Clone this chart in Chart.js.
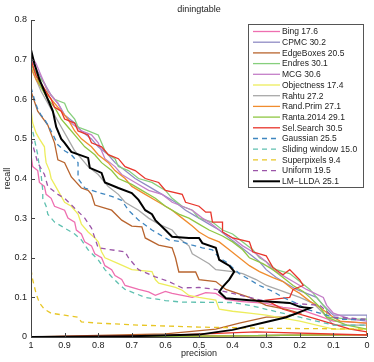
<!DOCTYPE html>
<html>
<head>
<meta charset="utf-8">
<script src="https://cdn.jsdelivr.net/npm/chart.js@4/dist/chart.umd.min.js"></script>
<style>
  html, body { margin: 0; padding: 0; background: #fff; }
  #wrap { width: 374px; height: 362px; }
</style>
</head>
<body>
<div id="wrap"><canvas id="pr"></canvas></div>
<script>
// [precision, recall] pairs
const bing = [[1,0.46],[0.995,0.43],[0.98,0.42],[0.975,0.39],[0.96,0.38],[0.955,0.36],[0.94,0.35],[0.93,0.33],[0.9,0.32],[0.89,0.3],[0.87,0.29],[0.865,0.27],[0.85,0.26],[0.84,0.24],[0.82,0.23],[0.81,0.21],[0.79,0.2],[0.78,0.18],[0.76,0.17],[0.75,0.155],[0.73,0.145],[0.72,0.13],[0.68,0.12],[0.65,0.114],[0.63,0.105],[0.6,0.115],[0.58,0.11],[0.52,0.1],[0.48,0.112],[0.45,0.11],[0.42,0.095],[0.38,0.09],[0.3,0.085],[0.25,0.075],[0.2,0.07],[0.15,0.055],[0.1,0.04],[0,0.035],[0,0.006],[0.5,0.002],[1,0]];
const cpmc = [[1,0.7],[0.98,0.67],[0.96,0.64],[0.94,0.61],[0.92,0.59],[0.9,0.56],[0.87,0.54],[0.85,0.52],[0.82,0.5],[0.8,0.48],[0.77,0.46],[0.75,0.44],[0.72,0.42],[0.69,0.4],[0.65,0.38],[0.61,0.36],[0.57,0.34],[0.54,0.32],[0.5,0.3],[0.47,0.285],[0.44,0.27],[0.41,0.25],[0.38,0.23],[0.35,0.21],[0.32,0.19],[0.3,0.17],[0.27,0.15],[0.24,0.135],[0.21,0.12],[0.18,0.11],[0.15,0.1],[0.13,0.08],[0.1,0.055],[0,0.055],[0,0.006],[0.5,0.002],[1,0]];
const edgeBoxes = [[1,0.62],[0.98,0.57],[0.95,0.535],[0.93,0.49],[0.92,0.447],[0.9,0.44],[0.88,0.404],[0.85,0.376],[0.83,0.37],[0.82,0.36],[0.81,0.333],[0.78,0.325],[0.76,0.32],[0.73,0.295],[0.7,0.28],[0.67,0.278],[0.66,0.25],[0.62,0.232],[0.58,0.225],[0.57,0.2],[0.56,0.164],[0.51,0.164],[0.5,0.145],[0.45,0.14],[0.42,0.12],[0.35,0.1],[0.3,0.08],[0.24,0.07],[0.2,0.06],[0.25,0.05],[0.3,0.05],[0.38,0.035],[0.45,0.02],[0.6,0.008],[1,0]];
const endres = [[1,0.69],[0.98,0.66],[0.96,0.64],[0.95,0.62],[0.93,0.6],[0.9,0.59],[0.89,0.57],[0.87,0.55],[0.86,0.53],[0.83,0.52],[0.8,0.51],[0.79,0.49],[0.78,0.47],[0.77,0.46],[0.75,0.45],[0.74,0.43],[0.71,0.42],[0.68,0.4],[0.64,0.39],[0.6,0.37],[0.58,0.35],[0.55,0.33],[0.52,0.32],[0.5,0.3],[0.46,0.29],[0.43,0.27],[0.4,0.26],[0.37,0.24],[0.34,0.22],[0.32,0.2],[0.3,0.19],[0.27,0.17],[0.23,0.16],[0.2,0.14],[0.17,0.12],[0.15,0.1],[0.12,0.07],[0.12,0.05],[0.05,0.045],[0,0.045],[0,0.006],[0.5,0.002],[1,0]];
const mcg = [[1,0.71],[0.985,0.69],[0.97,0.66],[0.955,0.63],[0.94,0.61],[0.92,0.59],[0.9,0.56],[0.88,0.54],[0.85,0.52],[0.82,0.51],[0.8,0.49],[0.79,0.47],[0.78,0.45],[0.75,0.43],[0.73,0.41],[0.69,0.39],[0.65,0.37],[0.61,0.36],[0.58,0.34],[0.55,0.33],[0.52,0.32],[0.49,0.3],[0.47,0.29],[0.44,0.27],[0.4,0.25],[0.37,0.23],[0.33,0.21],[0.3,0.19],[0.28,0.17],[0.25,0.155],[0.22,0.14],[0.18,0.12],[0.13,0.1],[0.12,0.08],[0.1,0.06],[0.05,0.045],[0,0.04],[0,0.006],[0.5,0.002],[1,0]];
const objectness = [[1,0.575],[0.995,0.54],[0.985,0.515],[0.975,0.5],[0.96,0.48],[0.958,0.46],[0.955,0.44],[0.945,0.42],[0.94,0.4],[0.92,0.37],[0.9,0.34],[0.88,0.33],[0.86,0.31],[0.85,0.285],[0.83,0.265],[0.81,0.25],[0.8,0.24],[0.79,0.215],[0.78,0.2],[0.74,0.185],[0.7,0.17],[0.64,0.165],[0.63,0.145],[0.62,0.136],[0.57,0.125],[0.55,0.118],[0.53,0.105],[0.5,0.1],[0.45,0.093],[0.44,0.07],[0.4,0.065],[0.35,0.06],[0.3,0.055],[0.2,0.04],[0.1,0.02],[0,0.02],[0,0.006],[0.5,0.002],[1,0]];
const rahtu = [[1,0.68],[0.985,0.65],[0.97,0.62],[0.95,0.59],[0.93,0.56],[0.91,0.53],[0.89,0.5],[0.87,0.47],[0.85,0.45],[0.83,0.43],[0.8,0.41],[0.78,0.39],[0.77,0.38],[0.74,0.36],[0.72,0.34],[0.68,0.32],[0.65,0.3],[0.62,0.285],[0.58,0.27],[0.56,0.25],[0.53,0.23],[0.52,0.21],[0.5,0.2],[0.47,0.185],[0.45,0.17],[0.4,0.165],[0.37,0.16],[0.33,0.145],[0.3,0.13],[0.25,0.115],[0.2,0.1],[0.16,0.085],[0.13,0.06],[0.1,0.03],[0,0.03],[0,0.006],[0.5,0.002],[1,0]];
const randPrim = [[1,0.68],[0.985,0.65],[0.97,0.63],[0.95,0.61],[0.93,0.59],[0.91,0.57],[0.89,0.55],[0.87,0.52],[0.85,0.5],[0.82,0.48],[0.8,0.46],[0.77,0.44],[0.75,0.42],[0.72,0.4],[0.7,0.38],[0.66,0.36],[0.62,0.34],[0.58,0.32],[0.55,0.3],[0.52,0.28],[0.5,0.265],[0.47,0.25],[0.44,0.24],[0.41,0.22],[0.38,0.2],[0.35,0.18],[0.32,0.165],[0.28,0.15],[0.25,0.14],[0.22,0.12],[0.2,0.11],[0.17,0.09],[0.15,0.08],[0.1,0.05],[0.08,0.04],[0,0.035],[0,0.006],[0.5,0.002],[1,0]];
const ranta = [[1,0.69],[0.985,0.66],[0.97,0.63],[0.95,0.6],[0.93,0.58],[0.91,0.55],[0.89,0.53],[0.86,0.5],[0.84,0.48],[0.81,0.46],[0.79,0.44],[0.76,0.42],[0.74,0.4],[0.7,0.385],[0.67,0.37],[0.63,0.35],[0.6,0.33],[0.56,0.31],[0.53,0.3],[0.5,0.285],[0.47,0.27],[0.43,0.255],[0.4,0.24],[0.37,0.22],[0.35,0.2],[0.31,0.185],[0.28,0.17],[0.25,0.15],[0.22,0.13],[0.19,0.115],[0.17,0.1],[0.14,0.075],[0.12,0.05],[0.06,0.03],[0,0.02],[0,0.006],[0.5,0.002],[1,0]];
const selSearch = [[1,0.7],[0.985,0.66],[0.97,0.64],[0.955,0.62],[0.94,0.6],[0.93,0.58],[0.91,0.57],[0.9,0.55],[0.87,0.54],[0.86,0.52],[0.83,0.51],[0.82,0.49],[0.79,0.48],[0.77,0.46],[0.74,0.45],[0.72,0.43],[0.69,0.42],[0.66,0.4],[0.62,0.39],[0.6,0.37],[0.55,0.36],[0.54,0.34],[0.5,0.33],[0.48,0.315],[0.465,0.315],[0.46,0.29],[0.43,0.29],[0.43,0.265],[0.4,0.25],[0.35,0.24],[0.34,0.215],[0.3,0.205],[0.28,0.175],[0.25,0.157],[0.23,0.17],[0.2,0.144],[0.19,0.13],[0.22,0.12],[0.23,0.1],[0.3,0.093],[0.25,0.07],[0.15,0.045],[0.05,0.02],[0,0.013],[0,0.005],[0.33,0.013],[0.6,0.004],[1,0]];
const gaussian = [[1,0.63],[0.99,0.6],[0.98,0.575],[0.97,0.56],[0.96,0.55],[0.94,0.52],[0.92,0.485],[0.9,0.47],[0.88,0.46],[0.86,0.44],[0.86,0.4],[0.84,0.376],[0.8,0.365],[0.76,0.355],[0.73,0.345],[0.71,0.32],[0.68,0.295],[0.64,0.27],[0.59,0.245],[0.55,0.24],[0.52,0.232],[0.49,0.225],[0.46,0.22],[0.44,0.2],[0.42,0.19],[0.4,0.175],[0.38,0.16],[0.35,0.145],[0.32,0.13],[0.28,0.115],[0.25,0.1],[0.21,0.085],[0.18,0.07],[0.12,0.055],[0.08,0.045],[0,0.043]];
const slidingWindow = [[1,0.54],[0.99,0.5],[0.98,0.46],[0.975,0.43],[0.97,0.41],[0.965,0.37],[0.965,0.35],[0.955,0.33],[0.95,0.31],[0.93,0.29],[0.9,0.275],[0.87,0.26],[0.85,0.245],[0.83,0.22],[0.8,0.195],[0.78,0.17],[0.76,0.152],[0.74,0.135],[0.72,0.12],[0.69,0.11],[0.66,0.1],[0.6,0.092],[0.55,0.088],[0.4,0.087],[0.35,0.08],[0.3,0.07],[0.2,0.05],[0.1,0.03],[0,0.03]];
const superpixels = [[1,0.17],[0.995,0.145],[0.985,0.11],[0.975,0.086],[0.96,0.07],[0.94,0.06],[0.9,0.055],[0.86,0.05],[0.85,0.038],[0.8,0.035],[0.68,0.03],[0.5,0.025],[0.3,0.022],[0,0.02]];
const uniform = [[1,0.5],[0.99,0.47],[0.98,0.44],[0.96,0.41],[0.95,0.38],[0.92,0.36],[0.9,0.35],[0.87,0.325],[0.84,0.3],[0.82,0.275],[0.81,0.25],[0.8,0.225],[0.72,0.215],[0.71,0.2],[0.7,0.19],[0.68,0.17],[0.63,0.152],[0.59,0.14],[0.55,0.124],[0.5,0.125],[0.45,0.12],[0.4,0.11],[0.3,0.09],[0.14,0.08],[0.1,0.05],[0,0.045]];
const lmllda = [[1,0.725],[0.99,0.69],[0.975,0.65],[0.96,0.62],[0.95,0.6],[0.935,0.57],[0.925,0.53],[0.91,0.5],[0.9,0.49],[0.88,0.467],[0.83,0.452],[0.825,0.427],[0.79,0.414],[0.78,0.39],[0.74,0.376],[0.7,0.363],[0.68,0.346],[0.66,0.32],[0.64,0.31],[0.63,0.295],[0.6,0.27],[0.58,0.253],[0.53,0.25],[0.5,0.25],[0.49,0.237],[0.45,0.225],[0.44,0.195],[0.41,0.18],[0.395,0.165],[0.41,0.145],[0.43,0.126],[0.44,0.114],[0.42,0.098],[0.35,0.093],[0.23,0.086],[0.2,0.076],[0.17,0.073],[0.24,0.05],[0.3,0.038],[0.4,0.018],[0.5,0.006],[0.7,0.002],[1,0]];

const seriesNames = ['Bing 17.6','CPMC 30.2','EdgeBoxes 20.5','Endres 30.1','MCG 30.6','Objectness 17.4','Rahtu 27.2','Rand.Prim 27.1','Ranta.2014 29.1','Sel.Search 30.5','Gaussian 25.5','Sliding window 15.0','Superpixels 9.4','Uniform 19.5','LM\u2212LLDA 25.1'];
const seriesData = [bing, cpmc, edgeBoxes, endres, mcg, objectness, rahtu, randPrim, ranta, selSearch, gaussian, slidingWindow, superpixels, uniform, lmllda];
const seriesColors = ['#ee6fb0','#8f8cc4','#b8642e','#86cf7c','#c47fc8','#eded5c','#a8a8a8','#f08c2e','#8fc743','#e8352b','#3f86c0','#5fc0b0','#e8c625','#9b55a8','#000000'];
const seriesDashed = [false,false,false,false,false,false,false,false,false,false,true,true,true,true,false];

const xTicks = [1,0.9,0.8,0.7,0.6,0.5,0.4,0.3,0.2,0.1,0];
const yTicks = [0,0.1,0.2,0.3,0.4,0.5,0.6,0.7,0.8];

const FONT = '"Liberation Sans", Arial, sans-serif';

const datasets = seriesData.map((pts, i) => ({
    label: seriesNames[i],
    data: pts.map(p => ({ x: p[0], y: p[1] })),
    borderColor: seriesColors[i],
    borderWidth: i === 14 ? 2 : 1.3,
    borderDash: seriesDashed[i] ? [5, 4] : [],
    showLine: true,
    pointRadius: 0,
    tension: 0,
    fill: false,
    order: 15 - i
}));

// axes, inward ticks, title and boxed legend like the original figure
const decor = {
    id: 'decor',
    afterDraw(chart) {
        const ctx = chart.ctx;
        const a = chart.chartArea;
        const xs = chart.scales.x, ys = chart.scales.y;
        ctx.save();
        ctx.strokeStyle = '#444';
        ctx.lineWidth = 1;
        ctx.beginPath();
        ctx.moveTo(a.left + 0.5, a.top);
        ctx.lineTo(a.left + 0.5, a.bottom + 0.5);
        ctx.lineTo(a.right, a.bottom + 0.5);
        yTicks.forEach(v => {
            const py = Math.round(ys.getPixelForValue(v)) + 0.5;
            ctx.moveTo(a.left, py);
            ctx.lineTo(a.left + 4, py);
        });
        xTicks.forEach(v => {
            const px = Math.round(xs.getPixelForValue(v)) + 0.5;
            ctx.moveTo(px, a.bottom);
            ctx.lineTo(px, a.bottom - 4);
        });
        ctx.stroke();

        ctx.fillStyle = '#222';
        ctx.font = '9px ' + FONT;
        ctx.textAlign = 'center';
        ctx.textBaseline = 'middle';
        ctx.fillText('diningtable', (a.left + a.right) / 2, 10);

        // legend
        const bx = 248.5, by = 24.5, bw = 115, bh = 163;
        ctx.fillStyle = '#fff';
        ctx.fillRect(bx, by, bw, bh);
        ctx.strokeStyle = '#555';
        ctx.strokeRect(bx, by, bw, bh);
        ctx.font = '8.5px ' + FONT;
        ctx.textAlign = 'left';
        chart.data.datasets.forEach((ds, i) => {
            const ry = 31.5 + i * 10.7;
            ctx.strokeStyle = ds.borderColor;
            ctx.lineWidth = ds.borderWidth;
            ctx.setLineDash(ds.borderDash);
            ctx.beginPath();
            ctx.moveTo(253, ry);
            ctx.lineTo(280, ry);
            ctx.stroke();
            ctx.setLineDash([]);
            ctx.fillStyle = '#222';
            ctx.fillText(ds.label, 282, ry + 0.5);
        });
        ctx.restore();
    }
};

new Chart(document.getElementById('pr'), {
    type: 'scatter',
    data: { datasets: datasets },
    options: {
        responsive: true,
        maintainAspectRatio: false,
        animation: false,
        layout: { padding: { top: 20, right: 7, bottom: 0, left: 0 } },
        plugins: {
            legend: { display: false },
            tooltip: { enabled: false },
            title: { display: false }
        },
        scales: {
            x: {
                type: 'linear',
                reverse: true,
                min: 0,
                max: 1,
                grid: { display: false, drawTicks: false },
                border: { display: false },
                afterBuildTicks: s => { s.ticks = xTicks.map(v => ({ value: v })); },
                afterFit: s => { s.height = 25; },
                ticks: {
                    autoSkip: false,
                    maxRotation: 0,
                    padding: 3,
                    color: '#222',
                    font: { size: 9, family: FONT },
                    callback: v => String(Math.round(v * 10) / 10)
                },
                title: { display: true, text: 'precision', color: '#222', font: { size: 9, family: FONT }, padding: { top: 0, bottom: 3 } }
            },
            y: {
                type: 'linear',
                min: 0,
                max: 0.8,
                grid: { display: false, drawTicks: false },
                border: { display: false },
                afterBuildTicks: s => { s.ticks = yTicks.map(v => ({ value: v })); },
                afterFit: s => { s.width = 31; },
                ticks: {
                    autoSkip: false,
                    padding: 4,
                    color: '#222',
                    font: { size: 9, family: FONT },
                    callback: v => String(Math.round(v * 10) / 10)
                },
                title: { display: true, text: 'recall', color: '#222', font: { size: 9, family: FONT }, padding: { top: 2, bottom: 0 } }
            }
        }
    },
    plugins: [decor]
});
</script>
</body>
</html>
